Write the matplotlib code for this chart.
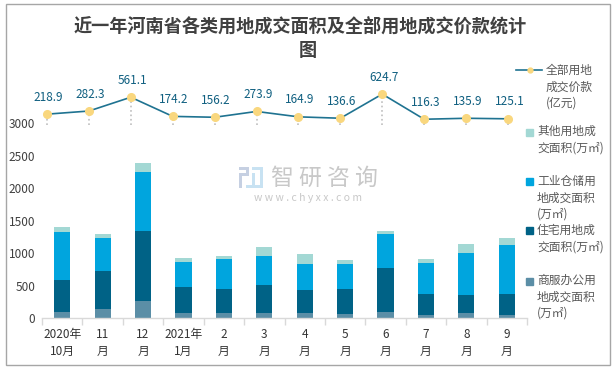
import matplotlib
matplotlib.use("Agg")
import matplotlib.pyplot as plt
from matplotlib.patches import Rectangle
import numpy as np

plt.rcParams["font.family"] = ["Noto Sans CJK SC", "DejaVu Sans"]

months = ["2020年\n10月", "11\n月", "12\n月", "2021年\n1月", "2\n月", "3\n月", "4\n月", "5\n月", "6\n月", "7\n月", "8\n月", "9\n月"]
office = [92, 139, 262, 77, 77, 77, 77, 62, 92, 46, 77, 46]
housing = [493, 585, 1078, 401, 370, 431, 354, 385, 678, 324, 277, 324]
industry = [740, 509, 910, 385, 462, 447, 401, 385, 524, 477, 648, 755]
other = [77, 61, 138, 62, 46, 139, 154, 62, 46, 62, 138, 108]
price = [218.9, 282.3, 561.1, 174.2, 156.2, 273.9, 164.9, 136.6, 624.7, 116.3, 135.9, 125.1]
yticks = [0, 500, 1000, 1500, 2000, 2500, 3000]

W, H = 616, 369
fig = plt.figure(figsize=(W / 100, H / 100), dpi=100)
left, right, base, top = 42, 527, 318, 88
rect = [left / W, 1 - base / H, (right - left) / W, (base - top) / H]
ax = fig.add_axes(rect)
x = np.arange(len(months))
ax.set_xlim(-0.5, 11.5)
ax.set_ylim(0, (base - top) / 0.0649)

bottom = np.zeros(len(months))
for vals, col in [(office, "#5b8ea6"), (housing, "#006286"), (industry, "#00a5de"), (other, "#a3d8d4")]:
    ax.bar(x, vals, 0.4, bottom=bottom, color=col, zorder=2)
    bottom += np.array(vals)

for s in ["top", "right", "left"]:
    ax.spines[s].set_visible(False)
ax.spines["bottom"].set_color("#d9d9d9")
ax.spines["bottom"].set_linewidth(1)
ax.set_yticks(yticks)
ax.tick_params(axis="y", length=0, labelsize=8.5, labelcolor="#404040", pad=5)
ax.set_xticks(np.arange(-0.5, 12, 1))
ax.set_xticklabels([])
ax.tick_params(axis="x", length=5, color="#d9d9d9", width=1)
for i, m in enumerate(months):
    ax.annotate(m, (i, 0), xytext=(0, -7.5), textcoords="offset points", ha="center", va="top",
                fontsize=8.5, color="#333333", fontweight="medium", linespacing=1.35)

# price line has its own axes, the points run a bit wider than the bars
ax2 = fig.add_axes(rect, frameon=False)
ax2.set_xlim(-5 / 41.9, 11 + 19 / 41.9)
ax2.set_ylim((125 - base) / 0.0495, (125 - top) / 0.0495)
ax2.axis("off")
ax2.vlines(x, 0, price, color="#bfbfbf", linestyle=":", linewidth=1.2, zorder=1)
ax2.plot(x, price, color="#1f7391", linewidth=1.2, zorder=2)
ax2.plot(x, price, "o", color="#f9d77e", markersize=5.5, zorder=3)
for i, v in enumerate(price):
    ax2.annotate(f"{v:.1f}", (i, v), xytext=(1, 7.5), textcoords="offset points",
                 ha="center", va="bottom", fontsize=8.5, color="#0f5f80")

fig.text(300 / W, 1 - 26.5 / H, "近一年河南省各类用地成交面积及全部用地成交价款统计", ha="center", va="center",
         fontsize=13.1, color="#404040", fontweight="bold")
fig.text(308 / W, 1 - 50 / H, "图", ha="center", va="center", fontsize=13.1, color="#404040", fontweight="bold")

# legend written by hand, the wrapped labels sit at fixed places
leg_text = "#595959"
fig.add_artist(plt.Line2D([516 / W, 542 / W], [1 - 70 / H] * 2, color="#1f7391", linewidth=1.2))
fig.add_artist(plt.Line2D([530 / W], [1 - 70 / H], marker="o", color="#f9d77e", markersize=3.5))
fig.text(546 / W, 1 - 87 / H, "全部用地\n成交价款\n(亿元)", ha="left", va="center", fontsize=8.5, color=leg_text, linespacing=1.35)
legend_rows = [(132, "#a3d8d4", "其他用地成\n交面积(万㎡)", 140),
               (181, "#00a5de", "工业仓储用\n地成交面积\n(万㎡)", 198),
               (231, "#006286", "住宅用地成\n交面积(万㎡)", 239),
               (281, "#5b8ea6", "商服办公用\n地成交面积\n(万㎡)", 297)]
for sq_y, col, label, text_y in legend_rows:
    fig.add_artist(Rectangle((526 / W, 1 - (sq_y + 3.5) / H), 7 / W, 7 / H, color=col, transform=fig.transFigure))
    fig.text(537 / W, 1 - text_y / H, label, ha="left", va="center", fontsize=8.5, color=leg_text, linespacing=1.35)

# watermark, logo blocks then text
for bx, by, bw, bh, col in [(239, 167, 10, 3, "#c6d0e2"), (239, 173, 10, 3, "#c6d0e2"), (239, 173, 3, 15, "#c6d0e2"),
                            (246, 167, 3, 9, "#c6d0e2"), (252, 167, 11, 3, "#c8e2f2"), (252, 173, 3, 12, "#c8e2f2"),
                            (246, 185, 17, 3, "#c8e2f2"), (260, 167, 3, 21, "#c8e2f2")]:
    fig.add_artist(Rectangle((bx / W, 1 - (by + bh) / H), bw / W, bh / H, color=col, linewidth=0, transform=fig.transFigure))
fig.text(324 / W, 1 - 178 / H, "智 研 咨 询", ha="center", va="center", fontsize=16.5, color="#c8c8c8", zorder=5)
fig.text(308 / W, 1 - 198 / H, "w w w . c h y x x . c o m", ha="center", va="center", fontsize=7.5, color="#c8c8c8", zorder=5)

# outer frame of the picture
fig.add_artist(Rectangle((5.5 / W, 1 - 365 / H), 604.5 / W, 361.5 / H, fill=False, edgecolor="#a6a6a6",
                         linewidth=1, transform=fig.transFigure))

fig.savefig("out.png", dpi=100)
